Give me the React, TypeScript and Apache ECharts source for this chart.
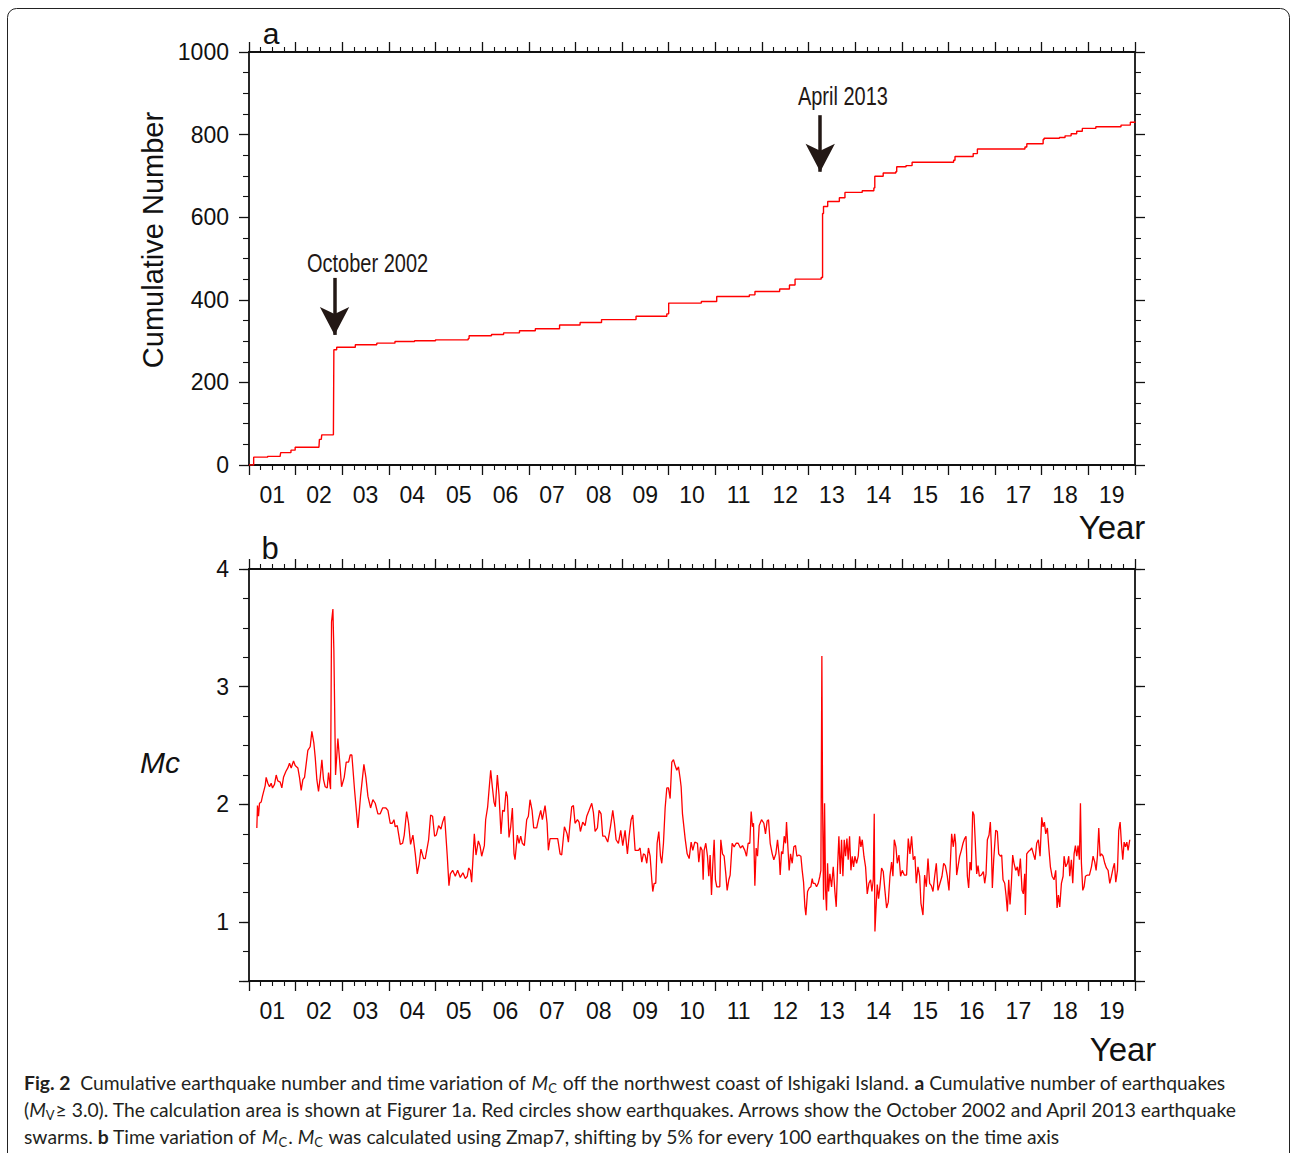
import React, { useEffect, useRef } from 'react';
import * as echarts from 'echarts';

// ---------- data ----------
// Panel a: cumulative number of earthquakes, [decimal year, count]
const cumulative2001to2009: number[][] = [
  [2001.0, 0], [2001.05, 0], [2001.1, 19], [2001.4, 21], [2001.67, 24], [2001.68, 30], [2001.9, 36], [2001.99, 43],
  [2002.5, 43], [2002.51, 62], [2002.55, 62], [2002.56, 73], [2002.81, 73], [2002.82, 279], [2002.88, 285],
  [2003.28, 291], [2003.74, 295], [2004.13, 299], [2004.55, 301], [2005.0, 303], [2005.7, 306], [2005.72, 313],
  [2006.2, 316], [2006.46, 320], [2006.8, 325], [2007.14, 330], [2007.66, 339], [2008.1, 345], [2008.56, 352],
  [2009.3, 360], [2009.96, 366],
];
const cumulative2010to2019: number[][] = [
  [2010.0, 392], [2010.7, 396], [2011.03, 408], [2011.73, 412], [2011.85, 420], [2012.38, 426],
  [2012.59, 436], [2012.71, 450], [2013.27, 454], [2013.3, 609], [2013.32, 626], [2013.41, 638],
  [2013.66, 647], [2013.78, 660], [2014.15, 664], [2014.4, 671], [2014.42, 699], [2014.6, 707],
  [2014.87, 710], [2014.89, 722], [2015.09, 725], [2015.22, 733], [2016.11, 738], [2016.14, 747],
  [2016.53, 754], [2016.62, 765], [2017.64, 770], [2017.68, 778], [2018.03, 788], [2018.05, 791],
  [2018.38, 793], [2018.5, 797], [2018.63, 802], [2018.75, 808], [2018.87, 815], [2019.16, 819], [2019.7, 823],
  [2019.9, 830], [2020.0, 832],
];

// Panel b: magnitude of completeness Mc, [decimal year, Mc]
const mc2001to2005: number[][] = [
  [2001.168, 1.8], [2001.182, 1.99], [2001.204, 1.9], [2001.225, 2.01], [2001.261, 2.02], [2001.289, 2.07],
  [2001.347, 2.16], [2001.368, 2.23], [2001.404, 2.18], [2001.44, 2.15], [2001.475, 2.18], [2001.504, 2.14],
  [2001.547, 2.17], [2001.583, 2.25], [2001.618, 2.2], [2001.669, 2.19], [2001.704, 2.14], [2001.74, 2.23],
  [2001.79, 2.28], [2001.833, 2.31], [2001.869, 2.35], [2001.905, 2.31], [2001.955, 2.37], [2001.99, 2.33],
  [2002.048, 2.31], [2002.083, 2.23], [2002.119, 2.12], [2002.155, 2.21], [2002.191, 2.23], [2002.262, 2.46],
  [2002.312, 2.49], [2002.348, 2.62], [2002.391, 2.52], [2002.42, 2.4], [2002.455, 2.21], [2002.491, 2.11],
  [2002.527, 2.23], [2002.563, 2.38], [2002.598, 2.21], [2002.634, 2.15], [2002.677, 2.14], [2002.706, 2.27],
  [2002.749, 2.13], [2002.77, 3.55], [2002.799, 3.66], [2002.82, 3.31], [2002.856, 2.25], [2002.906, 2.56],
  [2002.942, 2.38], [2002.985, 2.15], [2003.042, 2.23], [2003.085, 2.36], [2003.135, 2.36], [2003.171, 2.42],
  [2003.206, 2.42], [2003.264, 2.12], [2003.335, 1.8], [2003.392, 2.07], [2003.464, 2.34], [2003.507, 2.23],
  [2003.55, 2.07], [2003.607, 1.97], [2003.657, 2.04], [2003.707, 2.01], [2003.764, 1.92], [2003.814, 1.92],
  [2003.865, 1.97], [2003.936, 1.97], [2003.979, 1.95], [2004.029, 1.84], [2004.072, 1.84], [2004.108, 1.87],
  [2004.136, 1.81], [2004.179, 1.82], [2004.244, 1.66], [2004.294, 1.67], [2004.329, 1.74], [2004.38, 1.94],
  [2004.422, 1.84], [2004.465, 1.66], [2004.515, 1.74], [2004.566, 1.58], [2004.608, 1.41], [2004.651, 1.5],
  [2004.687, 1.62], [2004.744, 1.54], [2004.78, 1.54], [2004.852, 1.7], [2004.895, 1.91], [2004.937, 1.9],
  [2004.98, 1.73], [2005.016, 1.74], [2005.066, 1.82], [2005.116, 1.79], [2005.152, 1.85], [2005.195, 1.9],
  [2005.252, 1.56], [2005.288, 1.31], [2005.317, 1.41], [2005.367, 1.44], [2005.424, 1.39], [2005.474, 1.44],
  [2005.531, 1.38], [2005.588, 1.42], [2005.638, 1.37], [2005.681, 1.39], [2005.71, 1.46], [2005.746, 1.44],
];
const mc2005to2010: number[][] = [
  [2005.775, 1.34], [2005.832, 1.75], [2005.868, 1.57], [2005.918, 1.69], [2005.954, 1.65], [2005.99, 1.56],
  [2006.047, 1.65], [2006.075, 1.87], [2006.118, 1.98], [2006.147, 2.12], [2006.183, 2.29], [2006.218, 2.15],
  [2006.254, 2.02], [2006.283, 1.98], [2006.326, 2.25], [2006.362, 2.08], [2006.404, 1.75], [2006.44, 1.95],
  [2006.476, 1.94], [2006.512, 2.11], [2006.54, 2.07], [2006.576, 1.72], [2006.612, 1.81], [2006.648, 1.97],
  [2006.683, 1.58], [2006.705, 1.53], [2006.755, 1.74], [2006.791, 1.67], [2006.827, 1.73], [2006.862, 1.67],
  [2006.905, 1.65], [2006.955, 1.87], [2006.991, 1.9], [2007.027, 2.04], [2007.07, 1.95], [2007.105, 1.8],
  [2007.17, 1.8], [2007.206, 1.87], [2007.256, 1.95], [2007.291, 1.87], [2007.349, 1.99], [2007.392, 1.84],
  [2007.42, 1.61], [2007.456, 1.71], [2007.62, 1.71], [2007.671, 1.58], [2007.706, 1.57], [2007.764, 1.81],
  [2007.821, 1.75], [2007.849, 1.68], [2007.885, 1.84], [2007.921, 1.98], [2007.957, 1.99], [2007.992, 1.84],
  [2008.043, 1.87], [2008.078, 1.85], [2008.107, 1.77], [2008.157, 1.85], [2008.207, 1.82], [2008.243, 1.9],
  [2008.293, 1.95], [2008.35, 2.01], [2008.386, 1.93], [2008.422, 1.77], [2008.472, 1.8], [2008.507, 1.95],
  [2008.55, 1.92], [2008.586, 1.73], [2008.636, 1.73], [2008.693, 1.68], [2008.751, 1.81], [2008.801, 1.95],
  [2008.837, 1.84], [2008.872, 1.7], [2008.922, 1.67], [2008.972, 1.78], [2009.015, 1.65], [2009.065, 1.78],
  [2009.115, 1.58], [2009.151, 1.73], [2009.194, 1.87], [2009.23, 1.91], [2009.28, 1.61], [2009.352, 1.61],
  [2009.387, 1.63], [2009.423, 1.51], [2009.459, 1.58], [2009.495, 1.57], [2009.53, 1.5], [2009.566, 1.63],
  [2009.602, 1.56], [2009.638, 1.36], [2009.659, 1.26], [2009.688, 1.33], [2009.723, 1.33], [2009.752, 1.67],
  [2009.788, 1.77], [2009.824, 1.56], [2009.852, 1.5], [2009.888, 1.67], [2009.924, 1.97], [2009.96, 2.14],
  [2009.995, 2.14], [2010.031, 2.05], [2010.067, 2.36], [2010.103, 2.38], [2010.138, 2.33], [2010.174, 2.29],
  [2010.21, 2.32], [2010.246, 2.22], [2010.267, 2.15], [2010.296, 1.92], [2010.353, 1.71], [2010.396, 1.58],
  [2010.439, 1.54], [2010.482, 1.68], [2010.517, 1.61],
];
const mc2010to2015: number[][] = [
  [2010.56, 1.68], [2010.617, 1.67], [2010.646, 1.51], [2010.682, 1.64], [2010.717, 1.61], [2010.739, 1.36],
  [2010.76, 1.61], [2010.796, 1.67], [2010.832, 1.56], [2010.86, 1.39], [2010.889, 1.57], [2010.918, 1.23],
  [2010.946, 1.49], [2010.975, 1.7], [2011.003, 1.36], [2011.032, 1.3], [2011.096, 1.3], [2011.118, 1.7],
  [2011.154, 1.58], [2011.189, 1.56], [2011.225, 1.41], [2011.254, 1.27], [2011.29, 1.36], [2011.318, 1.4],
  [2011.361, 1.67], [2011.404, 1.64], [2011.447, 1.67], [2011.49, 1.67], [2011.54, 1.63], [2011.583, 1.65],
  [2011.633, 1.61], [2011.669, 1.56], [2011.704, 1.67], [2011.74, 1.67], [2011.769, 1.94], [2011.797, 1.81],
  [2011.819, 1.84], [2011.848, 1.31], [2011.876, 1.63], [2011.905, 1.56], [2011.941, 1.82], [2011.991, 1.87],
  [2012.041, 1.84], [2012.076, 1.75], [2012.112, 1.86], [2012.141, 1.87], [2012.177, 1.67], [2012.22, 1.58],
  [2012.255, 1.53], [2012.298, 1.58], [2012.334, 1.7], [2012.37, 1.56], [2012.391, 1.4], [2012.42, 1.6],
  [2012.448, 1.58], [2012.477, 1.73], [2012.506, 1.67], [2012.527, 1.85], [2012.556, 1.64], [2012.584, 1.44],
  [2012.613, 1.58], [2012.649, 1.5], [2012.684, 1.64], [2012.72, 1.65], [2012.749, 1.56], [2012.792, 1.57],
  [2012.835, 1.56], [2012.863, 1.44], [2012.892, 1.34], [2012.921, 1.13], [2012.942, 1.06], [2012.978, 1.26],
  [2013.014, 1.29], [2013.049, 1.3], [2013.078, 1.37], [2013.099, 1.33], [2013.135, 1.33], [2013.171, 1.3],
  [2013.207, 1.33], [2013.242, 1.39], [2013.264, 1.44], [2013.285, 3.26], [2013.3, 2.01], [2013.321, 1.19],
  [2013.343, 2.01], [2013.364, 1.27], [2013.385, 1.1], [2013.407, 1.5], [2013.428, 1.26], [2013.457, 1.41],
  [2013.493, 1.3], [2013.529, 1.47], [2013.564, 1.26], [2013.593, 1.13], [2013.622, 1.47], [2013.65, 1.73],
  [2013.679, 1.41], [2013.707, 1.7], [2013.736, 1.39], [2013.765, 1.7], [2013.793, 1.56], [2013.822, 1.71],
  [2013.85, 1.53], [2013.879, 1.73], [2013.908, 1.44], [2013.936, 1.56], [2013.965, 1.47], [2013.993, 1.56],
  [2014.029, 1.5], [2014.065, 1.56], [2014.094, 1.73], [2014.122, 1.64], [2014.151, 1.7], [2014.187, 1.56],
  [2014.222, 1.47], [2014.258, 1.24], [2014.294, 1.33], [2014.33, 1.36], [2014.358, 1.26], [2014.387, 1.36],
  [2014.408, 1.92], [2014.423, 0.92], [2014.444, 1.1], [2014.473, 1.32], [2014.501, 1.2], [2014.53, 1.3],
  [2014.566, 1.46], [2014.601, 1.43], [2014.637, 1.27], [2014.673, 1.12], [2014.709, 1.17], [2014.745, 1.39],
  [2014.78, 1.51], [2014.809, 1.39], [2014.838, 1.7], [2014.873, 1.64], [2014.902, 1.5], [2014.938, 1.57],
  [2014.973, 1.39], [2015.009, 1.44], [2015.052, 1.4], [2015.102, 1.4], [2015.138, 1.71], [2015.174, 1.58],
  [2015.209, 1.73], [2015.245, 1.53], [2015.281, 1.56], [2015.31, 1.33],
];
const mc2015to2019: number[][] = [
  [2015.346, 1.47], [2015.382, 1.39], [2015.41, 1.16], [2015.453, 1.06], [2015.489, 1.4], [2015.525, 1.3],
  [2015.561, 1.54], [2015.596, 1.33], [2015.632, 1.31], [2015.668, 1.26], [2015.704, 1.39], [2015.739, 1.5],
  [2015.775, 1.27], [2015.818, 1.33], [2015.861, 1.39], [2015.897, 1.5], [2015.933, 1.48], [2015.975, 1.39],
  [2016.011, 1.27], [2016.04, 1.5], [2016.068, 1.75], [2016.104, 1.64], [2016.133, 1.75], [2016.154, 1.67],
  [2016.176, 1.4], [2016.204, 1.47], [2016.24, 1.56], [2016.276, 1.61], [2016.312, 1.67], [2016.347, 1.71],
  [2016.376, 1.73], [2016.405, 1.39], [2016.433, 1.29], [2016.462, 1.51], [2016.49, 1.44], [2016.519, 1.94],
  [2016.548, 1.91], [2016.576, 1.67], [2016.605, 1.41], [2016.634, 1.48], [2016.662, 1.39], [2016.705, 1.4],
  [2016.748, 1.43], [2016.777, 1.33], [2016.805, 1.41], [2016.834, 1.7], [2016.87, 1.74], [2016.898, 1.85],
  [2016.92, 1.64], [2016.941, 1.29], [2016.97, 1.53], [2017.013, 1.78], [2017.048, 1.77], [2017.077, 1.58],
  [2017.113, 1.56], [2017.141, 1.57], [2017.17, 1.36], [2017.206, 1.33], [2017.234, 1.23], [2017.263, 1.09],
  [2017.292, 1.36], [2017.32, 1.15], [2017.349, 1.33], [2017.377, 1.57], [2017.406, 1.5], [2017.442, 1.44],
  [2017.478, 1.47], [2017.506, 1.39], [2017.542, 1.54], [2017.578, 1.27], [2017.606, 1.24], [2017.635, 1.41],
  [2017.649, 1.06], [2017.678, 1.58], [2017.714, 1.6], [2017.749, 1.61], [2017.785, 1.63], [2017.821, 1.58],
  [2017.857, 1.53], [2017.892, 1.67], [2017.928, 1.7], [2017.964, 1.56], [2018.0, 1.89], [2018.028, 1.81],
  [2018.057, 1.85], [2018.086, 1.75], [2018.121, 1.8], [2018.15, 1.64], [2018.186, 1.47], [2018.222, 1.39],
  [2018.264, 1.36], [2018.3, 1.44], [2018.329, 1.12], [2018.357, 1.23], [2018.386, 1.13], [2018.422, 1.33],
  [2018.458, 1.39], [2018.479, 1.56], [2018.515, 1.47], [2018.551, 1.5], [2018.579, 1.56], [2018.601, 1.39],
  [2018.636, 1.53], [2018.665, 1.33], [2018.694, 1.58], [2018.722, 1.65], [2018.751, 1.56], [2018.779, 1.65],
  [2018.808, 1.53], [2018.83, 2.01], [2018.851, 1.5], [2018.88, 1.27], [2018.908, 1.3], [2018.937, 1.39],
  [2018.98, 1.4], [2019.023, 1.4], [2019.066, 1.47], [2019.101, 1.56], [2019.137, 1.51], [2019.166, 1.44],
  [2019.194, 1.56], [2019.223, 1.8], [2019.252, 1.56], [2019.28, 1.58], [2019.316, 1.56], [2019.352, 1.5],
  [2019.387, 1.46], [2019.423, 1.44], [2019.459, 1.33], [2019.495, 1.39], [2019.531, 1.46], [2019.559, 1.5],
  [2019.588, 1.34], [2019.624, 1.44], [2019.652, 1.78], [2019.681, 1.85], [2019.709, 1.67], [2019.738, 1.53],
  [2019.767, 1.68], [2019.795, 1.64], [2019.824, 1.68], [2019.852, 1.61], [2019.888, 1.7],
];

// swarm annotations (data coordinates of panel a)
const swarmNames = ['October 2002', 'April 2013'];
const swarmYears = [2002.835, 2013.25];
const arrowTops = [453, 847];
const arrowTips = [315, 710];
const swarmLabelYears = [2003.543, 2013.736];
const swarmLabelCounts = [487, 891];

const captionLines = [
  '{b|Fig. 2}  Cumulative earthquake number and time variation of {i|M}{s|C} off the northwest coast of Ishigaki Island. {b|a} Cumulative number of earthquakes',
  '({i|M}{s|V}≥ 3.0). The calculation area is shown at Figurer 1a. Red circles show earthquakes. Arrows show the October 2002 and April 2013 earthquake',
  'swarms. {b|b} Time variation of {i|M}{s|C}. {i|M}{s|C} was calculated using Zmap7, shifting by 5% for every 100 earthquakes on the time axis',
];

// ---------- styling ----------
const FONT = "'Liberation Sans', Arial, Helvetica, sans-serif";
const CAP_FONT = "Lato, 'Open Sans', sans-serif";
const INK = '#111';
const ARROW_INK = '#231815';
const CAP_INK = '#231f20';
const CAP_SIZE = 19.3;

const yearLabel = (v: number) => {
  const r = v - Math.floor(v);
  if (Math.abs(r - 0.5) < 1e-6) return String(Math.floor(v) % 100).padStart(2, '0');
  return '';
};

const tickX = (gridIndex: number, position: string) => ({
  type: 'value', gridIndex, position, min: 2001, max: 2020, interval: 1,
  axisLine: { show: true, onZero: false, lineStyle: { color: INK, width: 1.8 } },
  axisTick: { show: true, inside: false, length: 10, lineStyle: { color: INK, width: 1.3 } },
  minorTick: { show: true, splitNumber: 4, length: 5, lineStyle: { color: INK, width: 1.1 } },
  axisLabel: { show: false }, splitLine: { show: false }, minorSplitLine: { show: false },
});

const labelX = (gridIndex: number) => ({
  type: 'value', gridIndex, position: 'bottom', min: 2001, max: 2020, interval: 0.5,
  axisLine: { show: false, onZero: false }, axisTick: { show: false }, splitLine: { show: false },
  axisLabel: {
    show: true, formatter: yearLabel, margin: 30, verticalAlign: 'middle',
    fontSize: 23, fontFamily: FONT, color: INK, showMinLabel: true, showMaxLabel: true,
  },
});

const cumY = (position: string, labels: boolean) => ({
  type: 'value', gridIndex: 0, position, min: 0, max: 1000, interval: 200,
  axisLine: { show: true, lineStyle: { color: INK, width: 1.8 } },
  axisTick: { show: true, inside: false, length: 10, lineStyle: { color: INK, width: 1.3 } },
  minorTick: { show: true, splitNumber: 4, length: 6, lineStyle: { color: INK, width: 1.1 } },
  axisLabel: { show: labels, margin: 20, fontSize: 23, fontFamily: FONT, color: INK, formatter: (v: number) => String(v) },
  splitLine: { show: false }, minorSplitLine: { show: false },
});

const mcMinorY = (position: string, labels: boolean) => ({
  type: 'value', gridIndex: 1, position, min: 0.5, max: 4, interval: 0.25,
  axisLine: { show: true, lineStyle: { color: INK, width: 1.8 } },
  axisTick: { show: true, inside: false, length: 6, lineStyle: { color: INK, width: 1.1 } },
  axisLabel: {
    show: labels, margin: 20, fontSize: 23, fontFamily: FONT, color: INK,
    formatter: (v: number) => (Math.abs(v - Math.round(v)) < 1e-6 ? String(Math.round(v)) : ''),
  },
  splitLine: { show: false },
});

// distance below Mc = 4, inverted so that its whole-number ticks fall on Mc = 4, 3, 2, 1
const mcMajorY = (position: string) => ({
  type: 'value', gridIndex: 1, position, inverse: true, min: 0, max: 3.5, interval: 1,
  axisLine: { show: false }, axisLabel: { show: false }, splitLine: { show: false },
  axisTick: { show: true, inside: false, length: 10, lineStyle: { color: INK, width: 1.3 } },
});

const text = (id: string, x: number, y: number, t: string, extra: any = {}) => ({
  id, type: 'text', x, y, silent: true,
  style: { text: t, fontFamily: FONT, fontSize: 23, fill: INK, align: 'center', verticalAlign: 'middle', ...extra },
});

const capRich = {
  b: { fontFamily: CAP_FONT, fontSize: CAP_SIZE, fontWeight: 'bold', color: CAP_INK },
  i: { fontFamily: CAP_FONT, fontSize: CAP_SIZE, fontStyle: 'italic', color: CAP_INK },
  s: { fontFamily: CAP_FONT, fontSize: 13, color: CAP_INK, padding: [11, 1, 0, 0] },
};

function staticGraphic(): any[] {
  return [
    {
      id: 'frame', type: 'rect', silent: true, z: -10,
      shape: { x: 7.5, y: 8.5, width: 1282, height: 1300, r: 9 },
      style: { fill: 'none', stroke: '#222', lineWidth: 1 },
    },
    text('pa', 271, 33, 'a', { fontSize: 30 }),
    text('pb', 270, 548, 'b', { fontSize: 31 }),
    { ...text('yname', 153, 240, 'Cumulative Number', { fontSize: 29 }), rotation: Math.PI / 2 },
    text('mc', 160, 762, 'Mc', { fontSize: 30, fontStyle: 'italic' }),
    text('yearA', 1112, 527, 'Year', { fontSize: 33 }),
    text('yearB', 1123, 1049, 'Year', { fontSize: 33 }),
    ...captionLines.map((line, i) => ({
      id: 'cap' + i, type: 'text', x: 24, y: 1082 + i * 27, silent: true,
      style: {
        text: line, fontFamily: CAP_FONT, fontSize: CAP_SIZE, fill: CAP_INK,
        align: 'left', verticalAlign: 'middle', rich: capRich,
      },
    })),
  ];
}

function buildOption() {
  return {
    animation: false,
    backgroundColor: '#ffffff',
    grid: [
      { left: 249, top: 52, width: 886, height: 413 },
      { left: 249, top: 569, width: 886, height: 412 },
    ],
    xAxis: [tickX(0, 'bottom'), tickX(0, 'top'), labelX(0), tickX(1, 'bottom'), tickX(1, 'top'), labelX(1)],
    yAxis: [cumY('left', true), cumY('right', false), mcMinorY('left', true), mcMajorY('left'), mcMinorY('right', false), mcMajorY('right')],
    series: [
      {
        name: 'Cumulative number', type: 'line', xAxisIndex: 0, yAxisIndex: 0, step: 'end',
        data: [...cumulative2001to2009, ...cumulative2010to2019],
        showSymbol: false, symbol: 'none', lineStyle: { color: '#ff0000', width: 1.4 },
        markLine: {
          silent: true, symbol: ['none', 'arrow'], symbolSize: [22, 28],
          lineStyle: { color: ARROW_INK, width: 3.5, type: 'solid' },
          label: { show: false },
          data: swarmYears.map((yr, i) => [{ coord: [yr, arrowTops[i]] }, { coord: [yr, arrowTips[i]] }]),
        },
      },
      {
        name: 'Mc', type: 'line', xAxisIndex: 3, yAxisIndex: 2,
        data: [...mc2001to2005, ...mc2005to2010, ...mc2010to2015, ...mc2015to2019],
        showSymbol: false, symbol: 'none', lineStyle: { color: '#ff0000', width: 1.3 },
      },
    ],
    graphic: staticGraphic(),
  };
}

export default function App() {
  const ref = useRef<HTMLDivElement>(null);
  useEffect(() => {
    const chart = echarts.init(ref.current as HTMLDivElement, null, { renderer: 'svg' });
    chart.setOption(buildOption() as any);
    // swarm labels: positioned through panel a's scales, condensed like the original lettering
    const labels = swarmNames.map((name, i) => {
      const p = chart.convertToPixel({ xAxisIndex: 0, yAxisIndex: 0 } as any, [swarmLabelYears[i], swarmLabelCounts[i]]) as number[];
      return {
        id: 'swarm' + i, type: 'text', x: p[0], y: p[1], scaleX: 0.8, silent: true,
        style: { text: name, fontFamily: FONT, fontSize: 25, fill: ARROW_INK, align: 'center', verticalAlign: 'middle' },
      };
    });
    chart.setOption({ graphic: [...staticGraphic(), ...labels] } as any);
    return () => chart.dispose();
  }, []);
  return (
    <div
      ref={ref}
      style={{ position: 'absolute', left: 0, top: 0, width: 1291, height: 1153, background: '#fff' }}
    />
  );
}
